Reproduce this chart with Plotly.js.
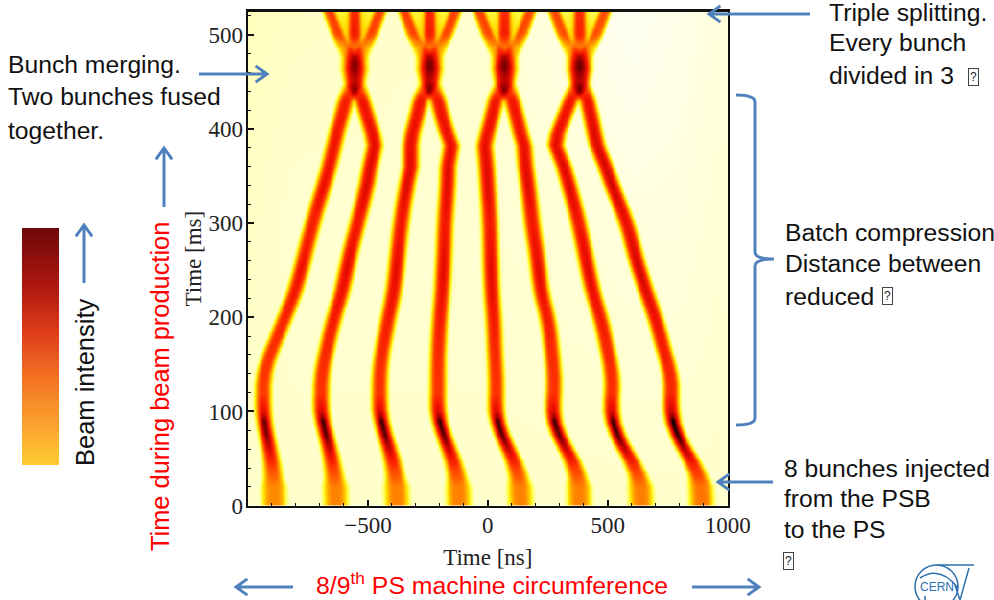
<!DOCTYPE html>
<html>
<head>
<meta charset="utf-8">
<script src="https://cdn.plot.ly/plotly-3.0.1.min.js"></script>
<style>html,body{margin:0;padding:0;background:#fff;overflow:hidden}</style>
</head>
<body>
<div id="chart" style="width:994px;height:600px"></div>
<script>
// Centres of the eight bunches (ns) against machine cycle time (ms)
const bunchTimes = [0,20,35,55,75,90,100,120,140,158,194,229,264,300,335,360,383,395,413,431,450,500];
const bunch1 = [-893,-893,-897,-907,-924,-935,-939,-938,-938,-914,-858,-803,-768,-733,-692,-664,-643,-632,-613,-594,-557,-557];
const bunch2 = [-636,-636,-643,-657,-675,-692,-699,-696,-696,-681,-650,-608,-581,-546,-511,-493,-474,-483,-504,-525,-557,-557];
const bunch3 = [-379,-383,-386,-407,-428,-449,-453,-453,-453,-446,-421,-393,-379,-365,-344,-324,-324,-317,-299,-282,-244,-244];
const bunch4 = [-122,-125,-129,-157,-185,-206,-212,-210,-210,-210,-203,-192,-185,-181,-171,-168,-154,-171,-192,-210,-244,-244];
const bunch5 = [135,132,128,93,58,35,31,33,33,28,24,14,10,7,-1,-7,-15,-4,14,31,68,68];
const bunch6 = [379,379,374,336,294,271,267,274,274,267,253,218,204,183,169,156,149,135,118,100,68,68];
const bunch7 = [637,637,628,579,538,517,510,517,517,503,475,433,406,378,343,315,281,289,315,343,381,381];
const bunch8 = [889,889,878,829,788,767,760,763,763,739,704,656,614,579,524,489,454,443,429,413,381,381];
// Peak intensity, width and dark core of the bunches along the cycle
const ridgeTimes = [0,20,30,40,55,75,90,100,120,160,250,300,340,430,450,465,488,525];
const ridgeAmp   = [.33,.33,.40,.46,.56,.60,.60,.56,.49,.51,.56,.54,.57,.55,.34,.32,0,0];
const ridgeWidth = [45,45,37,34,31,30,30,31,31,30,31,31,31,31,37,46,46,46];
const ridgeCore  = [0,0,0,0,.08,.28,.32,.10,0,.01,.08,.04,.08,.04,.02,.07,0,0];
const bunchGain  = [.93,.98,.98,.98,.98,.98,1,1.05];
// Triple splitting: centres of the four merged bunches, offset of the outer parts
const mergedCentres = [-557,-244,68,381];
const splitTimes  = [455,465,484,501,525];
const splitOffset = [0,0,38,72,106];
const splitAmp    = [0,.02,.2,.38,.42];
const splitWidth  = [38,36,28,25,24];
const splitGlow   = [0,0,.08,.17,.1];
// Background level read across the frame, one row per time
const bgTimes = [0,300,525];
const bgNs    = [-1000,-800,-400,0,400,600,800,1000];
const bgRow0  = [.035,.035,.035,.035,.035,.035,.035,.035];
const bgRow1  = [.04,.03,.03,.03,.025,.02,.02,.03];
const bgRow2  = [.045,.04,.035,.03,.012,.003,.012,.022];
const colourStops = [[0,'#fffff6'],[.04,'#ffffc6'],[.10,'#ffff50'],[.18,'#ffe000'],[.32,'#ff9500'],[.5,'#ff3500'],[.62,'#f01000'],[.8,'#a00000'],[.92,'#400000'],[1,'#000000']];
const intensityStops = [[0,'#ffcc33'],[.18,'#fba02d'],[.35,'#f57825'],[.55,'#e04018'],[.75,'#b01810'],[1,'#6e0808']];
const intensityLevels = [0,.1,.2,.3,.4,.5,.6,.7,.8,.9,1];
const xTicks = [-500,0,500,1000];
const xTickLabels = ['\u2212500','0','500','1000'];
const yTicks = [0,100,200,300,400,500];

const W=994,H=600;
const px=x=>x/W, py=y=>1-y/H;
function lerp(xs,ys,x){
  if(x<=xs[0])return ys[0];
  for(let i=1;i<xs.length;i++) if(x<=xs[i]) return ys[i-1]+(ys[i]-ys[i-1])*(x-xs[i-1])/(xs[i]-xs[i-1]);
  return ys[ys.length-1];
}
function centreAt(b,t){
  if(t>=340) return lerp(bunchTimes,b,t);
  return (lerp(bunchTimes,b,t-12)+lerp(bunchTimes,b,t)+lerp(bunchTimes,b,t+12))/3;
}
const bunches=[bunch1,bunch2,bunch3,bunch4,bunch5,bunch6,bunch7,bunch8];
const gridX=[],gridY=[];
for(let x=-1000;x<=1000;x+=8)gridX.push(x);
for(let t=0;t<=525;t+=2.5)gridY.push(t);
const prof=(d)=>Math.exp(-Math.pow(Math.abs(d),3.5));
const z=gridY.map(t=>{
  const a=lerp(ridgeTimes,ridgeAmp,t), s=lerp(ridgeTimes,ridgeWidth,t), k=lerp(ridgeTimes,ridgeCore,t);
  const centres=bunches.map(b=>centreAt(b,t));
  const sa=lerp(splitTimes,splitAmp,t), ss=lerp(splitTimes,splitWidth,t), so=lerp(splitTimes,splitOffset,t), sg=lerp(splitTimes,splitGlow,t);
  return gridX.map(x=>{
    const r=[bgRow0,bgRow1,bgRow2].map(row=>lerp(bgNs,row,x));
    let v=lerp(bgTimes,r,t);
    centres.forEach((c,i)=>{const d=(x-c)/s; if(Math.abs(d)<5) v+=bunchGain[i]*(a*prof(d)+k*Math.exp(-d*d/.2));});
    if(sa>0) mergedCentres.forEach(c=>{
      [-so,0,so].forEach(o=>{const d=(x-c-o)/ss; if(Math.abs(d)<5) v+=sa*prof(d);});
      const g=(x-c)/Math.max(ss,so*0.95); if(Math.abs(g)<5) v+=sg*prof(g);
    });
    return Math.min(v,1);
  });
});

const BLUE='#4f81bd', LOGO='#2e6fb0';
function arrow(x0,y0,x1,y1){
  const a=Math.atan2(y1-y0,x1-x0),L=14,A=.62;
  const p=(x,y)=>px(x)+','+py(y);
  return {type:'path',xref:'paper',yref:'paper',line:{color:BLUE,width:3},
    path:'M'+p(x0,y0)+'L'+p(x1,y1)+'M'+p(x1-L*Math.cos(a-A),y1-L*Math.sin(a-A))+'L'+p(x1,y1)+'L'+p(x1-L*Math.cos(a+A),y1-L*Math.sin(a+A))};
}
function pth(cmds,color,width){
  return {type:'path',xref:'paper',yref:'paper',line:{color:color||BLUE,width:width||3},path:cmds};
}
const P=(x,y)=>px(x)+','+py(y);
const shapes=[
  arrow(199,74,267,74),arrow(164,207,164,148),arrow(84,283,84,225),arrow(810,14,709,14),
  arrow(773,482,718,482),arrow(293,587,236,587),arrow(692,587,759,587),
  pth('M'+P(736,95)+'Q'+P(755,95)+' '+P(755,102)+'L'+P(755,252)+'Q'+P(755,259)+' '+P(774,259)+'Q'+P(755,259)+' '+P(755,266)+'L'+P(755,418)+'Q'+P(755,425)+' '+P(736,425),BLUE,3),
  // CERN logo
  {type:'circle',xref:'paper',yref:'paper',x0:px(915),x1:px(958),y0:py(608),y1:py(565),line:{color:LOGO,width:1.5}},
  pth('M'+P(937,565)+'L'+P(974,565)+'M'+P(969,568)+'L'+P(960,600)+'M'+P(955,585)+'L'+P(960,600)+'M'+P(920,578)+'Q'+P(940,565)+' '+P(958,588)+'M'+P(925,596)+'L'+P(925,600),LOGO,1.5)
];
function label(x,y,text,opt){
  return Object.assign({xref:'paper',yref:'paper',x:px(x),y:py(y),text:text,showarrow:false,xanchor:'left',yanchor:'middle',
    font:{family:'Liberation Sans, Arial, sans-serif',size:24.7,color:'#111'},borderpad:0},opt||{});
}
const tofu=(x,y)=>label(x,y,'?',{font:{family:'Liberation Sans',size:12,color:'#222'},xanchor:'center',bordercolor:'#444',borderwidth:1,borderpad:1});
const RED={family:'Liberation Sans',color:'#ff0000'};
const annotations=[
  label(7,64,'Bunch merging.'),label(7,96,'Two bunches fused'),label(7,130,'together.'),
  label(828,12,'Triple splitting.'),label(828,43,'Every bunch'),label(828,75,'divided in 3'),tofu(973,77),
  label(784,233,'Batch compression'),label(784,263,'Distance between'),label(784,296,'reduced'),tofu(887,296),
  label(783,468,'8 bunches injected'),label(783,498,'from the PSB'),label(783,529,'to the PS'),tofu(788,561),
  label(492,583,'8/9<sup>th</sup> PS machine circumference',{xanchor:'center',font:Object.assign({size:24.8},RED)}),
  label(160,387,'Time during beam production',{xanchor:'center',textangle:-90,font:Object.assign({size:25.4},RED)}),
  label(85,383,'Beam intensity',{xanchor:'center',textangle:-90,font:{family:'Liberation Sans',size:25.5,color:'#111'}}),
  label(937,587,'CERN',{xanchor:'center',font:{family:'Liberation Sans',size:12,color:LOGO}})
];
const serif={family:'Liberation Serif, Times New Roman, serif',size:23,color:'#222'};
Plotly.newPlot('chart',[
  {type:'heatmap',x:gridX,y:gridY,z:z,zmin:0,zmax:1,zsmooth:'best',colorscale:colourStops,showscale:false,hoverinfo:'skip'},
  {type:'heatmap',xaxis:'x2',yaxis:'y2',x:[0,1],y:intensityLevels,z:intensityLevels.map(v=>[v,v]),zmin:0,zmax:1,zsmooth:'best',colorscale:intensityStops,showscale:false,hoverinfo:'skip'}
],{
  width:W,height:H,margin:{l:0,r:0,t:0,b:0},paper_bgcolor:'#fff',plot_bgcolor:'#fff',
  xaxis:{domain:[248/W,727.7/W],range:[-1000,1000],tickmode:'array',tickvals:xTicks,ticktext:xTickLabels,ticks:'inside',ticklen:6,tickwidth:2,tickcolor:'#111',ticklabelstandoff:-3,
    showline:true,linewidth:2.5,linecolor:'#111',mirror:true,showgrid:false,zeroline:false,tickfont:serif,anchor:'y',
    minor:{dtick:100,tick0:0,ticks:'inside',ticklen:3,tickwidth:1,tickcolor:'#111',showgrid:false},
    title:{text:'Time [ns]',font:serif,standoff:12}},
  yaxis:{domain:[1-505.7/H,1-11.5/H],range:[0,524.6],tickmode:'array',tickvals:yTicks,ticks:'inside',ticklen:6,tickwidth:2,tickcolor:'#111',ticklabelstandoff:-2,
    showline:true,linewidth:2.5,linecolor:'#111',mirror:true,showgrid:false,zeroline:false,tickfont:serif,anchor:'x',
    minor:{dtick:20,tick0:0,ticks:'inside',ticklen:3,tickwidth:1,tickcolor:'#111',showgrid:false},
    title:{text:'Time [ms]',font:serif,standoff:1}},
  xaxis2:{domain:[22/W,59/W],range:[0,1],visible:false,anchor:'y2'},
  yaxis2:{domain:[1-465/H,1-228/H],range:[0,1],visible:false,anchor:'x2'},
  shapes:shapes,annotations:annotations,showlegend:false
},{displayModeBar:false,staticPlot:true});
</script>
</body>
</html>
